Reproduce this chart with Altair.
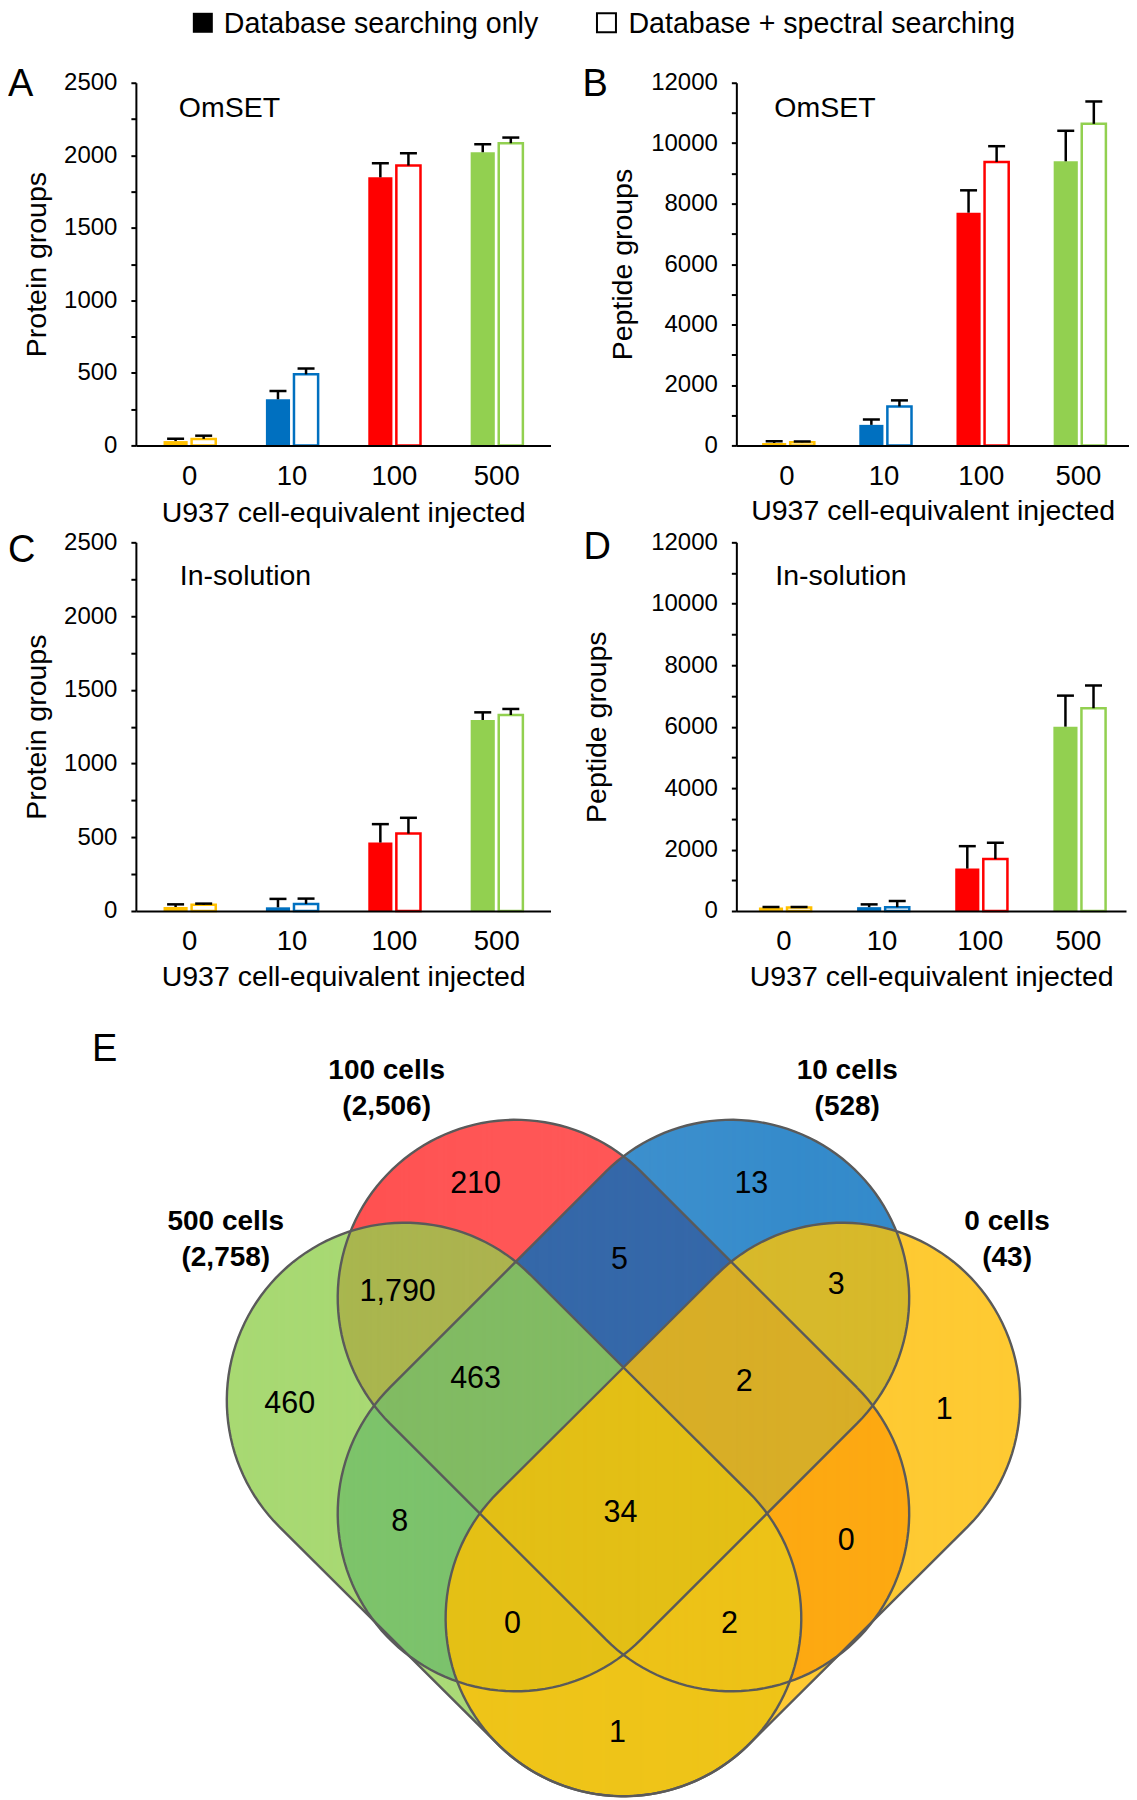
import numpy as np
import pandas as pd
import altair as alt

alt.data_transformers.disable_max_rows()
FONT = "Liberation Sans"

# ------------------------------------------------------------------ data
groups = ["0", "10", "100", "500"]
group_colors = ["#FFC000", "#0070C0", "#FF0000", "#92D050"]
legend_labels = ["Database searching only", "Database + spectral searching"]
x_title = "U937 cell-equivalent injected"

# A: OmSET, protein groups
a_db = [30, 318, 1848, 2021]
a_db_err = [16, 57, 97, 55]
a_spec = [45, 490, 1929, 2083]
a_spec_err = [22, 40, 85, 39]
# B: OmSET, peptide groups
b_db = [80, 680, 7700, 9400]
b_db_err = [55, 180, 740, 1010]
b_spec = [105, 1290, 9380, 10640]
b_spec_err = [25, 200, 520, 740]
# C: In-solution, protein groups
c_db = [27, 25, 464, 1295]
c_db_err = [18, 57, 125, 52]
c_spec = [42, 48, 525, 1329]
c_spec_err = [8, 36, 107, 41]
# D: In-solution, peptide groups
d_db = [110, 125, 1380, 6000]
d_db_err = [20, 90, 730, 1010]
d_spec = [110, 125, 1690, 6600]
d_spec_err = [20, 200, 530, 740]

# E: Venn of protein groups (G=500, R=100, B=10, Y=0 cells)
venn_set_codes = ["G", "R", "B", "Y"]
venn_set_names = ["500 cells", "100 cells", "10 cells", "0 cells"]
region_keys = ["G", "R", "B", "Y", "GR", "RB", "RY", "GB", "BY", "GY",
               "GRB", "RBY", "GRY", "GBY", "GRBY"]
region_counts = [460, 210, 13, 1, 1790, 5, 0, 8, 3, 1, 463, 2, 2, 0, 34]
set_totals = [sum(c for k, c in zip(region_keys, region_counts) if s in k)
              for s in venn_set_codes]

# ------------------------------------------------------------------ styles / layout
region_colors = {
    "G": "#A8D973", "R": "#FF5050", "B": "#358BCB", "Y": "#FECA33",
    "GR": "#A9B74F", "RB": "#3567A8", "RY": "#FDA912", "GB": "#7EC46A",
    "BY": "#D7B92B", "GY": "#EEC418", "GRB": "#82BB63", "RBY": "#D8AE27",
    "GRY": "#EDC218", "GBY": "#E4C016", "GRBY": "#E3BF16",
}
OUTLINE = "#5A5A5A"

# stadium shapes: (end centre 1, end centre 2), radius, in page pixels
VR = 178.0
shape_axes = {
    "G": ((405, 1401), (624, 1619)),
    "R": ((516, 1298), (732, 1514)),
    "B": ((732, 1298), (516, 1514)),
    "Y": ((843, 1401), (624, 1619)),
}
region_label_pos = {
    "R": (476, 1184), "B": (752, 1184), "G": (290, 1404), "Y": (945, 1410),
    "GR": (398, 1292), "RB": (620, 1260), "RY": (847, 1542), "GB": (400, 1523),
    "BY": (837, 1285), "GY": (618, 1734), "GRB": (476, 1379), "RBY": (745, 1382),
    "GRY": (730, 1625), "GBY": (513, 1625), "GRBY": (621, 1514),
}
set_label_pos = {"G": (226, 1222), "R": (387, 1071), "B": (848, 1071), "Y": (1008, 1222)}

COL0_X = 136      # left edge of first column plot areas (page px)
COL0_W = 415
ROW0_Y = 82
VX = [COL0_X, COL0_X + COL0_W]
VY = [1008, 1798]
STRIP_W = 1.6     # strips overlap a little so no seams show


# ------------------------------------------------------------------ bar panels
def bar_panel(db, db_err, spec, spec_err, ymax, minor, major, ytitle, method,
              letter, width, height, pad_outer, title_x, x_title_y, method_xy,
              letter_xy, with_legend=False):
    df = pd.DataFrame({
        "group": groups * 2,
        "series": ["db"] * 4 + ["spec"] * 4,
        "value": db + spec,
        "err": db_err + spec_err,
    })
    df["top"] = df["value"] + df["err"]

    xaxis = alt.Axis(title=x_title, labelAngle=0, ticks=False, tickSize=0,
                     domainColor="black", domainWidth=2, labelFontSize=27.5,
                     labelColor="black", labelPadding=17, titleFontSize=28.5,
                     titleFontWeight="normal", titleColor="black", titleY=x_title_y,
                     titleBaseline="alphabetic", zindex=1)
    yaxis = alt.Axis(values=list(range(0, ymax + 1, minor)),
                     labelExpr=f"datum.value % {major} === 0 ? datum.label : ''",
                     format="d", tickSize=5, tickWidth=2, tickColor="black",
                     domainColor="black", domainWidth=2, labelFontSize=24,
                     labelColor="black", labelPadding=14, labelOverlap=False,
                     grid=False, title=ytitle, titleFontSize=28.5,
                     titleFontWeight="normal", titleColor="black",
                     titleX=title_x, titleY=height / 2, titleAlign="center",
                     titleBaseline="middle", zindex=1)
    xs = alt.Scale(domain=groups, paddingInner=0.49, paddingOuter=pad_outer)
    x = alt.X("group:N", sort=groups, scale=xs, axis=xaxis)
    xo = alt.XOffset("series:N", scale=alt.Scale(domain=["db", "spec"], paddingInner=0.14))
    ys = alt.Scale(domain=[0, ymax], nice=False, zero=True)

    def y(field):
        return alt.Y(field, scale=ys, axis=yaxis, title=ytitle)

    cscale = alt.Scale(domain=groups, range=group_colors)
    base = alt.Chart(df)
    filled = base.transform_filter("datum.series == 'db'").mark_bar().encode(
        x=x, xOffset=xo, y=y("value:Q"),
        color=alt.Color("group:N", scale=cscale, legend=None))
    outlined = base.transform_filter("datum.series == 'spec'").mark_bar(
        fill="white", strokeWidth=2.5).encode(
        x=x, xOffset=xo, y=y("value:Q"),
        stroke=alt.Stroke("group:N", scale=cscale, legend=None))
    rules = base.mark_rule(color="black", strokeWidth=2.5).encode(
        x=x, xOffset=xo, y=y("value:Q"), y2="top:Q")
    caps = base.mark_tick(color="black", thickness=2.5, size=17,
                          orient="horizontal", opacity=1).encode(
        x=x, xOffset=xo, y=y("top:Q"))
    mtxt = alt.Chart(pd.DataFrame({"t": [method]})).mark_text(
        align="left", baseline="middle", fontSize=28.5, color="black").encode(
        x=alt.value(method_xy[0]), y=alt.value(method_xy[1]), text="t:N")
    ltxt = alt.Chart(pd.DataFrame({"t": [letter]})).mark_text(
        align="left", baseline="alphabetic", fontSize=38, color="black").encode(
        x=alt.value(letter_xy[0]), y=alt.value(letter_xy[1]), text="t:N")
    layers = [filled, outlined, rules, caps, mtxt, ltxt]

    if with_legend:
        # figure legend, placed above panel A (page px relative to this plot area)
        sym_x = [203 - COL0_X, 607 - COL0_X]
        txt_x = [224 - COL0_X, 629 - COL0_X]
        sym_y = 22 - ROW0_Y
        txt_y = 23.5 - ROW0_Y
        one = pd.DataFrame({"t": [legend_labels[0]]})
        two = pd.DataFrame({"t": [legend_labels[1]]})
        layers += [
            alt.Chart(one).mark_square(size=400, color="black", opacity=1).encode(
                x=alt.value(sym_x[0]), y=alt.value(sym_y)),
            alt.Chart(two).mark_square(size=361, filled=True, fill="white", stroke="black",
                                       strokeWidth=2, opacity=1).encode(
                x=alt.value(sym_x[1]), y=alt.value(sym_y)),
            alt.Chart(one).mark_text(align="left", baseline="middle", fontSize=28.6,
                                     color="black").encode(
                x=alt.value(txt_x[0]), y=alt.value(txt_y), text="t:N"),
            alt.Chart(two).mark_text(align="left", baseline="middle", fontSize=28.6,
                                     color="black").encode(
                x=alt.value(txt_x[1]), y=alt.value(txt_y), text="t:N"),
        ]
    return alt.layer(*layers).properties(width=width, height=height)


A = bar_panel(a_db, a_db_err, a_spec, a_spec_err, 2500, 250, 500, "Protein groups",
              "OmSET", "A", 415, 363, 0.27, -99, 76, (43, 25), (-128, 13), with_legend=True)
B = bar_panel(b_db, b_db_err, b_spec, b_spec_err, 12000, 1000, 2000, "Peptide groups",
              "OmSET", "B", 393, 363, 0.265, -114, 74, (38, 25), (-154, 13))
C = bar_panel(c_db, c_db_err, c_spec, c_spec_err, 2500, 250, 500, "Protein groups",
              "In-solution", "C", 415, 369, 0.27, -99, 75, (44, 34), (-128, 20))
D = bar_panel(d_db, d_db_err, d_spec, d_spec_err, 12000, 1000, 2000, "Peptide groups",
              "In-solution", "D", 390, 369, 0.23, -140, 75, (39, 34), (-153, 17))


# ------------------------------------------------------------------ Venn geometry
def stadium(c1, c2, r, n=72):
    c1 = np.asarray(c1, float)
    c2 = np.asarray(c2, float)
    d = c2 - c1
    a = np.arctan2(d[1], d[0])
    t2 = np.linspace(a - np.pi / 2, a + np.pi / 2, n)
    t1 = np.linspace(a + np.pi / 2, a + 3 * np.pi / 2, n)
    p2 = c2 + r * np.c_[np.cos(t2), np.sin(t2)]
    p1 = c1 + r * np.c_[np.cos(t1), np.sin(t1)]
    return np.vstack([p2, p1])


def signed_area(P):
    x, y = P[:, 0], P[:, 1]
    return 0.5 * np.sum(x * np.roll(y, -1) - np.roll(x, -1) * y)


def clip_convex(subject, clipper):
    s = np.sign(signed_area(clipper))
    out = [tuple(p) for p in subject]
    n = len(clipper)
    for i in range(n):
        a = clipper[i]
        b = clipper[(i + 1) % n]
        ex, ey = b[0] - a[0], b[1] - a[1]
        if ex == 0 and ey == 0:
            continue
        inp = out
        out = []
        if not inp:
            break

        def side(p):
            return s * (ex * (p[1] - a[1]) - ey * (p[0] - a[0]))

        prev = inp[-1]
        sp = side(prev)
        for cur in inp:
            sc = side(cur)
            if sc >= 0:
                if sp < 0:
                    t = sp / (sp - sc)
                    out.append((prev[0] + t * (cur[0] - prev[0]), prev[1] + t * (cur[1] - prev[1])))
                out.append(cur)
            elif sp >= 0:
                t = sp / (sp - sc)
                out.append((prev[0] + t * (cur[0] - prev[0]), prev[1] + t * (cur[1] - prev[1])))
            prev, sp = cur, sc
    return np.array(out)


def column_strips(P):
    """1-px vertical strips covering convex polygon P."""
    xmin, xmax = P[:, 0].min(), P[:, 0].max()
    cols = np.arange(np.floor(xmin), np.ceil(xmax))
    xc = cols + 0.5
    keep0 = (xc > xmin) & (xc < xmax)
    cols, xc = cols[keep0], xc[keep0]
    Q = np.roll(P, -1, axis=0)
    x0, y0, x1, y1 = P[:, 0], P[:, 1], Q[:, 0], Q[:, 1]
    dx = x1 - x0
    ok = np.abs(dx) > 1e-9
    lo, hi = np.minimum(x0, x1), np.maximum(x0, x1)
    X = xc[:, None]
    inr = (X >= lo) & (X <= hi) & ok
    slope = np.where(ok, (y1 - y0) / np.where(ok, dx, 1.0), 0.0)
    Y = np.where(inr, y0 + (X - x0) * slope, np.nan)
    keep = inr.any(axis=1)
    return cols[keep], np.nanmin(Y[keep], axis=1), np.nanmax(Y[keep], axis=1)


shapes = {k: stadium(*shape_axes[k], VR) for k in venn_set_codes}

region_strips = {}
for key in region_keys:
    poly = shapes[key[0]]
    for ch in key[1:]:
        poly = clip_convex(poly, shapes[ch])
    cols, ylo, yhi = column_strips(poly)
    region_strips[key] = pd.DataFrame({"x": cols.astype(float) - (STRIP_W - 1) / 2,
                                       "x2": cols.astype(float) + 1.0 + (STRIP_W - 1) / 2,
                                       "y1": ylo - 0.3, "y2": yhi + 0.3})

outline_rows = []
for k in venn_set_codes:
    P = shapes[k]
    for i, (xv, yv) in enumerate(np.vstack([P, P[:1]])):
        outline_rows.append({"set": k, "i": i, "x": float(xv), "y": float(yv)})
outline_df = pd.DataFrame(outline_rows)


def vx(f):
    return alt.X(f, scale=alt.Scale(domain=VX, nice=False, zero=False), axis=None)


def vy(f):
    return alt.Y(f, scale=alt.Scale(domain=VY, nice=False, zero=False, reverse=True),
                 axis=None)


venn_layers = []
# paint singles, then pairwise, triple and quadruple intersections on top
for key in sorted(region_keys, key=len):
    venn_layers.append(
        alt.Chart(region_strips[key]).mark_rect(color=region_colors[key], opacity=1,
                                                strokeWidth=0).encode(
            x=vx("x:Q"), x2="x2:Q", y=vy("y1:Q"), y2="y2:Q"))

venn_layers.append(
    alt.Chart(outline_df).mark_line(color=OUTLINE, strokeWidth=2.4, opacity=1).encode(
        x=vx("x:Q"), y=vy("y:Q"), detail="set:N", order="i:Q"))

lab_df = pd.DataFrame({
    "label": [f"{c:,}" for c in region_counts],
    "x": [region_label_pos[k][0] for k in region_keys],
    "y": [region_label_pos[k][1] for k in region_keys],
})
venn_layers.append(
    alt.Chart(lab_df).mark_text(fontSize=30.5, color="black", baseline="middle").encode(
        x=vx("x:Q"), y=vy("y:Q"), text="label:N"))

set_df = pd.DataFrame({
    "name": venn_set_names,
    "total": [f"({t:,})" for t in set_totals],
    "x": [set_label_pos[k][0] for k in venn_set_codes],
    "y": [set_label_pos[k][1] for k in venn_set_codes],
})
set_df["y_total"] = set_df["y"] + 36
venn_layers.append(
    alt.Chart(set_df).mark_text(fontSize=28, fontWeight="bold", color="black",
                                baseline="middle").encode(
        x=vx("x:Q"), y=vy("y:Q"), text="name:N"))
venn_layers.append(
    alt.Chart(set_df).mark_text(fontSize=28, fontWeight="bold", color="black",
                                baseline="middle").encode(
        x=vx("x:Q"), y=vy("y_total:Q"), text="total:N"))
venn_layers.append(
    alt.Chart(pd.DataFrame({"t": ["E"], "x": [92], "y": [1061]})).mark_text(
        fontSize=38, color="black", align="left", baseline="alphabetic").encode(
        x=vx("x:Q"), y=vy("y:Q"), text="t:N"))

venn = alt.layer(*venn_layers).properties(width=COL0_W, height=VY[1] - VY[0])

# ------------------------------------------------------------------ assemble
chart = alt.concat(
    A, B, C, D, venn, columns=2,
    spacing={"row": 97, "column": 186}, bounds="flush",
).properties(padding=0).configure(font=FONT).configure_view(stroke=None).configure_axis(
    labelFont=FONT, titleFont=FONT)

chart.save("out.html", embed_options={"renderer": "svg", "actions": False})
